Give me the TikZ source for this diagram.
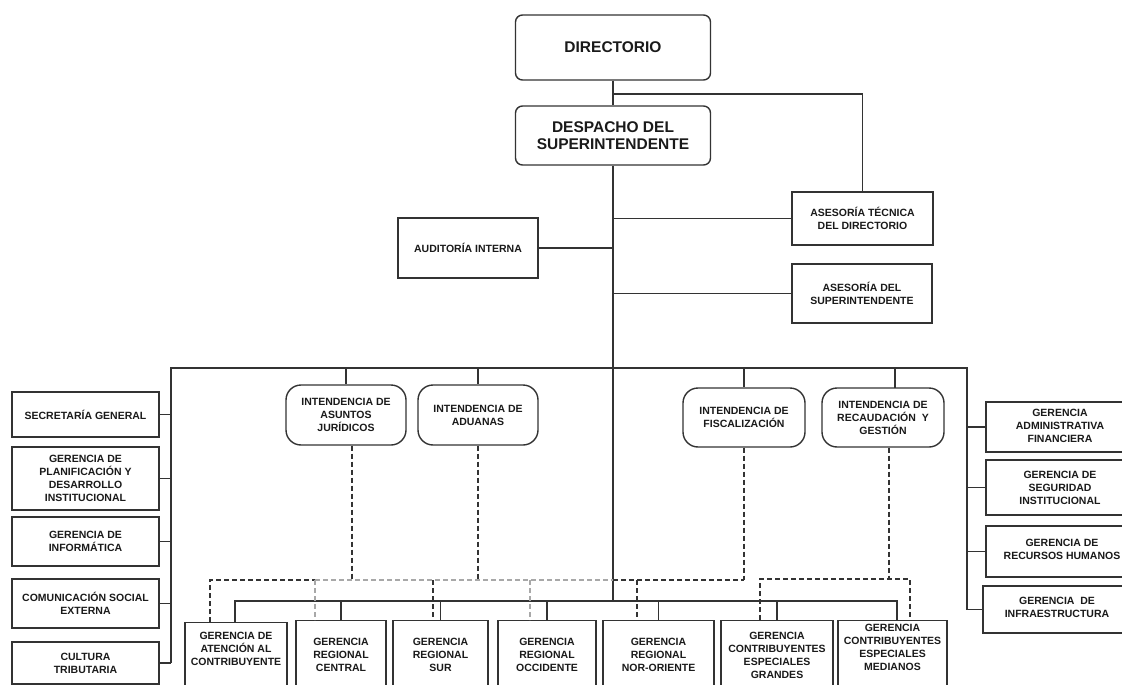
\documentclass[tikz,border=0pt]{standalone}
\usepackage{fontspec}
\setmainfont{Liberation Sans}
\usetikzlibrary{calc}
\definecolor{ln}{HTML}{333333}
\definecolor{lg}{HTML}{A8A8A8}
\definecolor{tx}{HTML}{1A1A1A}
\newcommand\orgfnt{\fontsize{10.5pt}{13pt}\selectfont\bfseries}
\newcommand\orgbig{\fontsize{15.5pt}{17.5pt}\selectfont\bfseries}
\begin{document}
\begin{tikzpicture}[x=1pt,y=-1pt,
  box/.style={draw=ln, line width=1.4pt, rectangle, inner sep=0pt, align=center, font=\orgfnt, text=tx},
  rbox/.style={box, rounded corners=7pt, font=\orgbig},
  ibox/.style={box, rounded corners=15pt, minimum width=120pt, minimum height=60pt},
  lbox/.style={box, minimum width=147pt},
  bbox/.style={box, anchor=north, minimum height=100pt},
  txt/.style={inner sep=0pt, align=center, font=\orgfnt, text=tx},
  conn/.style={draw=ln, line width=1.4pt},
  dsh/.style={draw=ln, line width=1.2pt, dash pattern=on 5pt off 3pt},
  dshg/.style={draw=lg, line width=1.2pt, dash pattern=on 5pt off 3pt}]
\useasboundingbox (0,0) rectangle (1122,685);
\clip (0,0) rectangle (1122,685);
\fill[white] (0,0) rectangle (1122,685);

% top
\node[rbox, minimum width=195pt, minimum height=65pt] (dir) at (613,47.5) {DIRECTORIO};
\node[rbox, minimum width=195pt, minimum height=59pt] (desp) at (613,135.5) {DESPACHO DEL\\SUPERINTENDENTE};
\node[box, minimum width=141pt, minimum height=53pt] (atd) at (862.5,218.5) {ASESORÍA TÉCNICA\\DEL DIRECTORIO};
\node[box, minimum width=140pt, minimum height=60pt] (aud) at (468,248) {AUDITORÍA INTERNA};
\node[box, minimum width=140pt, minimum height=59pt] (asup) at (862,293.5) {ASESORÍA DEL\\SUPERINTENDENTE};

\coordinate (j94) at (613,94);
\draw[conn] (dir.south) -- (desp.north);
\draw[conn] (j94) -| (atd.north);
\draw[conn] (desp.south |- atd.west) -- (atd.west);
\draw[conn] (aud.east) -- (desp.south |- aud.east);
\draw[conn] (desp.south |- asup.west) -- (asup.west);

% intendencias
\node[ibox] (jur) at (346,415) {INTENDENCIA DE\\ASUNTOS\\JURÍDICOS};
\node[ibox] (adu) at (478,415) {INTENDENCIA DE\\ADUANAS};
\node[ibox, minimum width=122pt, minimum height=59pt] (fis) at (744,417.5) {INTENDENCIA DE\\FISCALIZACIÓN};
\node[ibox, minimum width=122pt, minimum height=59pt] (rec) at (883,417.5) {INTENDENCIA DE\\RECAUDACIÓN~ Y\\GESTIÓN};

% left column
\node[lbox, minimum height=45pt] (sec) at (85.5,414.5) {SECRETARÍA GENERAL};
\node[lbox, minimum height=63pt] (plan) at (85.5,478.5) {GERENCIA DE\\PLANIFICACIÓN Y\\DESARROLLO\\INSTITUCIONAL};
\node[lbox, minimum height=49pt] (inf) at (85.5,541.5) {GERENCIA DE\\INFORMÁTICA};
\node[lbox, minimum height=49pt] (com) at (85.5,603.5) {COMUNICACIÓN SOCIAL\\EXTERNA};
\node[lbox, minimum height=42pt] (cul) at (85.5,663) {CULTURA\\TRIBUTARIA};

% right column
\node[box, minimum width=148pt, minimum height=50pt] (adm) at (1060,427) {};
\node[txt] (admt) at (1060,425.5) {GERENCIA\\ADMINISTRATIVA\\FINANCIERA};
\node[box, minimum width=148pt, minimum height=55pt] (seg) at (1060,487.5) {};
\node[txt] (segt) at (1060,488) {GERENCIA DE\\SEGURIDAD\\INSTITUCIONAL};
\node[box, minimum width=148pt, minimum height=51pt] (rh) at (1060,551.5) {};
\node[txt] (rht) at (1062,549) {GERENCIA DE\\RECURSOS HUMANOS};
\node[box, minimum width=151pt, minimum height=47pt] (infra) at (1058.5,609.5) {};
\node[txt] (infrat) at (1057,607.5) {GERENCIA~ DE\\INFRAESTRUCTURA};

% main bus
\coordinate (b1L) at (171,368);
\coordinate (b1R) at (967,368);
\draw[conn] (cul.east -| b1L) -- (b1L) -- (b1R) -- (infra.west -| b1R);
\foreach \n in {sec,plan,inf,com,cul} \draw[conn] (\n.east) -- (\n.east -| b1L);
\foreach \n in {adm,seg,rh,infra} \draw[conn] (\n.west -| b1R) -- (\n.west);
\foreach \n in {jur,adu,fis} \draw[conn] (\n.north |- b1L) -- (\n.north);
\coordinate (rtop) at (895,388);
\draw[conn] (rtop |- b1L) -- (rtop);

% bottom row
\node[bbox, minimum width=102pt] (ate) at (236,622) {};
\node[bbox, minimum width=90pt] (cen) at (341,620) {};
\node[bbox, minimum width=95pt] (sur) at (440.5,620) {};
\node[bbox, minimum width=98pt] (occ) at (547,620) {};
\node[bbox, minimum width=111pt] (nor) at (658.5,620) {};
\node[bbox, minimum width=112pt] (gra) at (777,620) {};
\node[bbox, minimum width=109pt] (med) at (892.5,620) {};
\node[txt] (atet) at (236,649) {GERENCIA DE\\ATENCIÓN AL\\CONTRIBUYENTE};
\node[txt] (cent) at (341,655) {GERENCIA\\REGIONAL\\CENTRAL};
\node[txt] (surt) at (440.5,655) {GERENCIA\\REGIONAL\\SUR};
\node[txt] (occt) at (547,655) {GERENCIA\\REGIONAL\\OCCIDENTE};
\node[txt] (nort) at (658.5,655) {GERENCIA\\REGIONAL\\NOR-ORIENTE};
\node[txt] (grat) at (777,655) {GERENCIA\\CONTRIBUYENTES\\ESPECIALES\\GRANDES};
\node[txt] (medt) at (892.5,647.5) {GERENCIA\\CONTRIBUYENTES\\ESPECIALES\\MEDIANOS};

% trunk
\coordinate (b2L) at (235,601);
\coordinate (b2R) at (897,601);
\coordinate (b2C) at (613,601);
\draw[conn] (desp.south) -- (b2C);
\draw[conn] (ate.north -| b2L) -- (b2L) -- (b2R) -- (med.north -| b2R);
\foreach \n in {cen,sur,occ,nor,gra} \draw[conn] (\n.north |- b2L) -- (\n.north);

% dashed network 1
\coordinate (d1a) at (210,580);
\coordinate (d1b) at (315,580);
\coordinate (d1c) at (613,580);
\coordinate (d1d) at (744,580);
\coordinate (d1s) at (433,580);
\coordinate (d1o) at (530,580);
\coordinate (d1n) at (637,580);
\coordinate (jd) at (352,580);
\draw[dsh] (ate.north -| d1a) -- (d1a) -- (d1b);
\draw[dshg] (d1b) -- (d1c);
\draw[dsh] (d1c) -- (d1d);
\draw[dshg] (d1b) -- (cen.north -| d1b);
\draw[dsh] (d1s) -- (sur.north -| d1s);
\draw[dshg] (d1o) -- (occ.north -| d1o);
\draw[dsh] (d1n) -- (nor.north -| d1n);
\draw[dsh] (jur.south -| jd) -- (jd);
\draw[dsh] (adu.south) -- (adu.south |- d1a);
\draw[dsh] (fis.south) -- (d1d);

% dashed network 2
\coordinate (d2a) at (760,579);
\coordinate (d2b) at (910,579);
\coordinate (rd) at (889,579);
\draw[dsh] (gra.north -| d2a) -- (d2a) -- (d2b) -- (med.north -| d2b);
\draw[dsh] (rec.south -| rd) -- (rd);
\end{tikzpicture}
\end{document}
